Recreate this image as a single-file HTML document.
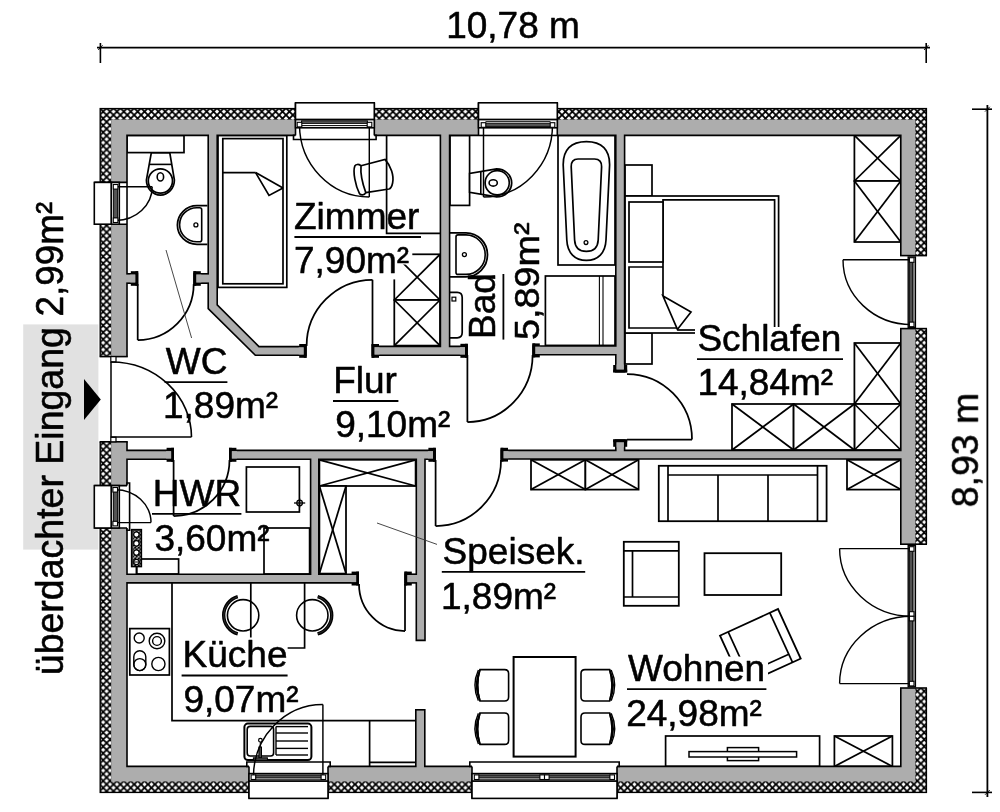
<!DOCTYPE html>
<html lang="de"><head><meta charset="utf-8"><title>Grundriss</title>
<style>html,body{margin:0;padding:0;background:#fff}body{width:1000px;height:812px;overflow:hidden;font-family:"Liberation Sans",sans-serif}svg{display:block}svg text{font-family:"Liberation Sans",sans-serif}</style></head>
<body>
<svg width="1000" height="812" viewBox="0 0 1000 812" fill="#000">
<defs><pattern id="hatch" patternUnits="userSpaceOnUse" width="6.9" height="6.9" x="99.7" y="108.15"><rect width="6.9" height="6.9" fill="#fff"/><path d="M-1,-1 L7.9,7.9 M7.9,-1 L-1,7.9" stroke="#000" stroke-width="1.8" fill="none"/></pattern><pattern id="hatch2" patternUnits="userSpaceOnUse" width="3.6" height="3.6" x="131.6" y="529.6"><rect width="3.6" height="3.6" fill="#fff"/><path d="M-1,-1 L4.6,4.6 M4.6,-1 L-1,4.6" stroke="#000" stroke-width="1.2" fill="none"/></pattern></defs>
<rect x="0.00" y="0.00" width="1000.00" height="812.00" fill="#fff" stroke="none" stroke-width="1.3" />
<rect x="23.20" y="324.40" width="75.20" height="225.20" fill="#e1e1e1" stroke="none" stroke-width="1.3" />
<rect x="127.00" y="135.40" width="57.00" height="17.20" fill="#fff" stroke="#000" stroke-width="1.7" />
<path d="M151.3,152.9 L169.8,152.9 L174.4,180 A14,15.1 0 0 1 146.4,180 Z" fill="#fff" stroke="#000" stroke-width="1.7" />
<line x1="149.50" y1="164.40" x2="171.30" y2="164.40" stroke="#000" stroke-width="1.6" />
<circle cx="160.40" cy="181.00" r="12.10" fill="#fff" stroke="#000" stroke-width="1.7"/>
<ellipse cx="160.4" cy="176.9" rx="3.2" ry="4.1" fill="#fff" stroke="#000" stroke-width="1.6"/>
<path d="M207.4,205.6 L197,205.6 A19.6,19.35 0 0 0 197,244.3 L207.4,244.3" fill="#fff" stroke="#000" stroke-width="1.8" />
<path d="M201.7,209.7 Q201.7,207.7 199.7,207.7 L196.8,207.7 A17.2,17 0 0 0 196.8,241.7 L199.7,241.7 Q201.7,241.7 201.7,239.7 Z" fill="#fff" stroke="#000" stroke-width="1.6" />
<circle cx="195.90" cy="224.90" r="2.00" fill="none" stroke="#000" stroke-width="1.3"/>
<rect x="218.00" y="135.40" width="68.80" height="152.00" fill="#fff" stroke="#000" stroke-width="1.7" />
<rect x="222.80" y="138.60" width="60.20" height="145.20" fill="#fff" stroke="#000" stroke-width="1.7" />
<line x1="222.80" y1="172.60" x2="255.60" y2="172.60" stroke="#000" stroke-width="1.7" />
<path d="M255.6,172.6 L269,195.4 L283,188" fill="none" stroke="#000" stroke-width="1.7" />
<line x1="255.60" y1="172.60" x2="283.00" y2="188.00" stroke="#000" stroke-width="1.7" />
<path d="M386.6,135.4 L386.6,233.3 L440,233.3" fill="none" stroke="#000" stroke-width="1.7" />
<path d="M361,165.8 L385,159.4 C391,166 394.2,176 392.6,183 C391.8,187 390.5,188.6 389,189 L365.8,192.6" fill="none" stroke="#000" stroke-width="1.7" />
<path d="M361,165.8 C358.6,164 356,164 354.8,166 C352.6,172 355.6,186 359.4,193.4 C361,195.6 364.4,195.4 365.8,192.6 C363,185 360.2,175 361,165.8 Z" fill="none" stroke="#000" stroke-width="1.7" />
<rect x="394.30" y="254.30" width="45.70" height="45.70" fill="#fff" stroke="#000" stroke-width="1.75" />
<line x1="394.30" y1="254.30" x2="440.00" y2="300.00" stroke="#000" stroke-width="1.75" />
<line x1="394.30" y1="300.00" x2="440.00" y2="254.30" stroke="#000" stroke-width="1.75" />
<rect x="394.30" y="300.00" width="45.70" height="45.60" fill="#fff" stroke="#000" stroke-width="1.75" />
<line x1="394.30" y1="300.00" x2="440.00" y2="345.60" stroke="#000" stroke-width="1.75" />
<line x1="394.30" y1="345.60" x2="440.00" y2="300.00" stroke="#000" stroke-width="1.75" />
<rect x="450.00" y="135.40" width="19.60" height="70.00" fill="#fff" stroke="#000" stroke-width="1.7" />
<path d="M469.6,173.4 L469.6,192.4 L496.6,196.9 A15.1,14 0 0 0 496.6,168.9 Z" fill="#fff" stroke="#000" stroke-width="1.7" />
<line x1="480.80" y1="171.60" x2="480.80" y2="194.30" stroke="#000" stroke-width="1.6" />
<circle cx="497.20" cy="182.80" r="12.10" fill="#fff" stroke="#000" stroke-width="1.7"/>
<ellipse cx="493.2" cy="182.9" rx="4.1" ry="3.2" fill="#fff" stroke="#000" stroke-width="1.6"/>
<path d="M450,232.8 L466,232.8 A21.5,22 0 0 1 466,276.8 L450,276.8" fill="#fff" stroke="#000" stroke-width="1.8" />
<path d="M456,236.9 Q456,234.9 458,234.9 L466,234.9 A19.2,19.75 0 0 1 466,274.4 L458,274.4 Q456,274.4 456,272.4 Z" fill="#fff" stroke="#000" stroke-width="1.6" />
<circle cx="464.40" cy="254.60" r="2.00" fill="none" stroke="#000" stroke-width="1.3"/>
<path d="M450,292.4 L457.2,292.4 Q462.2,292.4 462.2,297.6 L462.2,332.6 Q462.2,337.8 457.2,337.8 L450,337.8" fill="#fff" stroke="#000" stroke-width="1.7" />
<rect x="452.00" y="297.20" width="3.80" height="3.80" fill="#fff" stroke="#000" stroke-width="1.2" />
<rect x="558.00" y="135.40" width="57.00" height="129.60" fill="#fff" stroke="#000" stroke-width="1.7" />
<path d="M586.4,141.6 C602,141.6 609.8,150 609.6,165 L606,240 C605.4,253 598,260.4 586.4,260.4 C574.8,260.4 567.4,253 566.8,240 L563.2,165 C563,150 570.8,141.6 586.4,141.6 Z" fill="#fff" stroke="#000" stroke-width="1.7" />
<path d="M578,159 L594.6,159 C599.4,159 601.8,162 601.6,166.6 L598.2,240 C597.8,247.4 593.6,251.4 586.4,251.4 C579.2,251.4 575,247.4 574.6,240 L571.2,166.6 C571,162 573.2,159 578,159 Z" fill="#fff" stroke="#000" stroke-width="1.7" />
<circle cx="586.00" cy="242.60" r="1.90" fill="none" stroke="#000" stroke-width="1.3"/>
<rect x="545.40" y="276.00" width="69.60" height="69.40" fill="#fff" stroke="#000" stroke-width="1.7" />
<line x1="599.40" y1="276.00" x2="599.40" y2="345.40" stroke="#000" stroke-width="1.1" />
<line x1="603.00" y1="276.00" x2="603.00" y2="345.40" stroke="#000" stroke-width="1.1" />
<rect x="625.00" y="165.00" width="27.00" height="31.00" fill="#fff" stroke="#000" stroke-width="1.7" />
<rect x="625.00" y="333.00" width="27.00" height="31.00" fill="#fff" stroke="#000" stroke-width="1.7" />
<rect x="625.00" y="196.00" width="153.60" height="137.00" fill="#fff" stroke="#000" stroke-width="1.7" />
<path d="M663,296 L663,199.8 L774.6,199.8 L774.6,333" fill="none" stroke="#000" stroke-width="1.7" />
<rect x="629.00" y="202.00" width="34.00" height="60.00" fill="#fff" stroke="#000" stroke-width="1.7" />
<path d="M663,267 L629,267 L629,328 L677.4,328" fill="none" stroke="#000" stroke-width="1.7" />
<path d="M663,296 L691,312 L677.4,329.4 Z" fill="#fff" stroke="#000" stroke-width="1.7" />
<line x1="677.40" y1="330.00" x2="700.00" y2="330.00" stroke="#000" stroke-width="1.7" />
<rect x="854.40" y="135.40" width="46.40" height="45.60" fill="#fff" stroke="#000" stroke-width="1.75" />
<line x1="854.40" y1="135.40" x2="900.80" y2="181.00" stroke="#000" stroke-width="1.75" />
<line x1="854.40" y1="181.00" x2="900.80" y2="135.40" stroke="#000" stroke-width="1.75" />
<rect x="854.40" y="181.00" width="46.40" height="61.00" fill="#fff" stroke="#000" stroke-width="1.75" />
<line x1="854.40" y1="181.00" x2="900.80" y2="242.00" stroke="#000" stroke-width="1.75" />
<line x1="854.40" y1="242.00" x2="900.80" y2="181.00" stroke="#000" stroke-width="1.75" />
<rect x="854.40" y="343.00" width="46.40" height="61.00" fill="#fff" stroke="#000" stroke-width="1.75" />
<line x1="854.40" y1="343.00" x2="900.80" y2="404.00" stroke="#000" stroke-width="1.75" />
<line x1="854.40" y1="404.00" x2="900.80" y2="343.00" stroke="#000" stroke-width="1.75" />
<rect x="854.40" y="404.00" width="46.40" height="46.00" fill="#fff" stroke="#000" stroke-width="1.75" />
<line x1="854.40" y1="404.00" x2="900.80" y2="450.00" stroke="#000" stroke-width="1.75" />
<line x1="854.40" y1="450.00" x2="900.80" y2="404.00" stroke="#000" stroke-width="1.75" />
<rect x="732.00" y="404.00" width="61.60" height="46.00" fill="#fff" stroke="#000" stroke-width="1.75" />
<line x1="732.00" y1="404.00" x2="793.60" y2="450.00" stroke="#000" stroke-width="1.75" />
<line x1="732.00" y1="450.00" x2="793.60" y2="404.00" stroke="#000" stroke-width="1.75" />
<rect x="793.60" y="404.00" width="60.80" height="46.00" fill="#fff" stroke="#000" stroke-width="1.75" />
<line x1="793.60" y1="404.00" x2="854.40" y2="450.00" stroke="#000" stroke-width="1.75" />
<line x1="793.60" y1="450.00" x2="854.40" y2="404.00" stroke="#000" stroke-width="1.75" />
<rect x="246.40" y="467.00" width="53.00" height="45.00" fill="#fff" stroke="#000" stroke-width="1.7" />
<circle cx="299.60" cy="503.00" r="2.80" fill="none" stroke="#000" stroke-width="1.3"/>
<line x1="294.00" y1="503.00" x2="305.20" y2="503.00" stroke="#000" stroke-width="1.3" />
<line x1="299.60" y1="498.40" x2="299.60" y2="507.60" stroke="#000" stroke-width="1.3" />
<rect x="264.00" y="528.00" width="45.60" height="46.00" fill="#fff" stroke="#000" stroke-width="1.7" />
<rect x="136.60" y="559.00" width="42.00" height="15.00" fill="#fff" stroke="#000" stroke-width="1.7" />
<rect x="131.60" y="529.60" width="9.80" height="37.00" fill="url(#hatch2)" stroke="#000" stroke-width="1.5" />
<circle cx="136.40" cy="534.60" r="2.70" fill="#fff" stroke="#000" stroke-width="1.2"/>
<circle cx="136.40" cy="543.40" r="2.70" fill="#fff" stroke="#000" stroke-width="1.2"/>
<circle cx="136.40" cy="552.60" r="2.70" fill="#fff" stroke="#000" stroke-width="1.2"/>
<circle cx="136.40" cy="562.00" r="2.70" fill="#fff" stroke="#000" stroke-width="1.2"/>
<line x1="132.40" y1="562.00" x2="140.40" y2="562.00" stroke="#000" stroke-width="1.0" />
<line x1="136.60" y1="566.60" x2="136.60" y2="574.00" stroke="#000" stroke-width="1.7" />
<rect x="319.40" y="459.80" width="96.20" height="26.20" fill="#fff" stroke="#000" stroke-width="1.75" />
<line x1="319.40" y1="459.80" x2="415.60" y2="486.00" stroke="#000" stroke-width="1.75" />
<line x1="319.40" y1="486.00" x2="415.60" y2="459.80" stroke="#000" stroke-width="1.75" />
<rect x="319.40" y="486.00" width="26.60" height="87.60" fill="#fff" stroke="#000" stroke-width="1.75" />
<line x1="319.40" y1="486.00" x2="346.00" y2="573.60" stroke="#000" stroke-width="1.75" />
<line x1="319.40" y1="573.60" x2="346.00" y2="486.00" stroke="#000" stroke-width="1.75" />
<path d="M172,583 L172,720.6 L415,720.6" fill="none" stroke="#000" stroke-width="1.7" />
<path d="M250.8,583 L250.8,647.6" fill="none" stroke="#000" stroke-width="1.7" />
<path d="M304.6,583 L304.6,648 L287.4,648" fill="none" stroke="#000" stroke-width="1.7" />
<line x1="369.60" y1="720.60" x2="369.60" y2="766.40" stroke="#000" stroke-width="1.7" />
<line x1="369.60" y1="762.40" x2="415.00" y2="762.40" stroke="#000" stroke-width="1.7" />
<circle cx="243.10" cy="615.30" r="15.70" fill="none" stroke="#000" stroke-width="1.6"/>
<path d="M237.75,596.65 A19.4,19.4 0 0 0 237.75,633.95" fill="none" stroke="#000" stroke-width="3.4" />
<path d="M237.75,596.65 A19.4,19.4 0 0 0 237.75,633.95" fill="none" stroke="#555" stroke-width="0.5" />
<circle cx="312.30" cy="615.30" r="15.70" fill="none" stroke="#000" stroke-width="1.6"/>
<path d="M317.65,596.65 A19.4,19.4 0 0 1 317.65,633.95" fill="none" stroke="#000" stroke-width="3.4" />
<path d="M317.65,596.65 A19.4,19.4 0 0 1 317.65,633.95" fill="none" stroke="#555" stroke-width="0.5" />
<rect x="129.80" y="628.60" width="39.60" height="46.40" fill="#fff" stroke="#000" stroke-width="1.7" />
<circle cx="139.20" cy="638.00" r="5.00" fill="none" stroke="#000" stroke-width="1.4"/>
<circle cx="157.00" cy="641.00" r="7.80" fill="none" stroke="#000" stroke-width="1.4"/>
<circle cx="157.00" cy="641.00" r="4.40" fill="none" stroke="#000" stroke-width="1.4"/>
<rect x="133.8" y="650.8" width="12" height="19.8" rx="6" ry="6" fill="none" stroke="#000" stroke-width="1.4"/>
<circle cx="139.80" cy="664.60" r="6.00" fill="none" stroke="#000" stroke-width="1.4"/>
<circle cx="158.40" cy="664.00" r="6.60" fill="none" stroke="#000" stroke-width="1.4"/>
<rect x="244.4" y="723.6" width="67" height="36.4" rx="3.5" fill="#fff" stroke="#000" stroke-width="2.0"/>
<rect x="247.2" y="726.4" width="26.4" height="29.6" rx="3" fill="#fff" stroke="#000" stroke-width="1.6"/>
<line x1="276.00" y1="726.60" x2="308.00" y2="726.60" stroke="#000" stroke-width="1.4" />
<line x1="276.00" y1="733.00" x2="308.00" y2="733.00" stroke="#000" stroke-width="1.4" />
<line x1="276.00" y1="741.00" x2="308.00" y2="741.00" stroke="#000" stroke-width="1.4" />
<line x1="276.00" y1="748.40" x2="308.00" y2="748.40" stroke="#000" stroke-width="1.4" />
<line x1="276.00" y1="755.00" x2="308.00" y2="755.00" stroke="#000" stroke-width="1.4" />
<line x1="276.00" y1="726.60" x2="276.00" y2="755.00" stroke="#000" stroke-width="1.4" />
<circle cx="260.40" cy="740.20" r="1.80" fill="#fff" stroke="#000" stroke-width="1.2"/>
<line x1="260.30" y1="742.00" x2="260.20" y2="747.00" stroke="#000" stroke-width="1.0" />
<rect x="258.90" y="747.00" width="2.60" height="11.00" fill="#444" stroke="#000" stroke-width="1.0" />
<rect x="253.40" y="757.80" width="14.00" height="2.60" fill="#444" stroke="#000" stroke-width="1.0" />
<rect x="531.00" y="459.80" width="54.40" height="29.80" fill="#fff" stroke="#000" stroke-width="1.75" />
<line x1="531.00" y1="459.80" x2="585.40" y2="489.60" stroke="#000" stroke-width="1.75" />
<line x1="531.00" y1="489.60" x2="585.40" y2="459.80" stroke="#000" stroke-width="1.75" />
<rect x="585.40" y="459.80" width="53.20" height="29.80" fill="#fff" stroke="#000" stroke-width="1.75" />
<line x1="585.40" y1="459.80" x2="638.60" y2="489.60" stroke="#000" stroke-width="1.75" />
<line x1="585.40" y1="489.60" x2="638.60" y2="459.80" stroke="#000" stroke-width="1.75" />
<rect x="847.00" y="459.80" width="53.80" height="29.80" fill="#fff" stroke="#000" stroke-width="1.75" />
<line x1="847.00" y1="459.80" x2="900.80" y2="489.60" stroke="#000" stroke-width="1.75" />
<line x1="847.00" y1="489.60" x2="900.80" y2="459.80" stroke="#000" stroke-width="1.75" />
<rect x="834.40" y="736.00" width="58.00" height="30.40" fill="#fff" stroke="#000" stroke-width="1.75" />
<line x1="834.40" y1="736.00" x2="892.40" y2="766.40" stroke="#000" stroke-width="1.75" />
<line x1="834.40" y1="766.40" x2="892.40" y2="736.00" stroke="#000" stroke-width="1.75" />
<rect x="658.80" y="465.80" width="167.80" height="55.40" fill="#fff" stroke="#000" stroke-width="1.8" />
<line x1="668.00" y1="465.80" x2="668.00" y2="521.20" stroke="#000" stroke-width="1.7" />
<line x1="817.50" y1="465.80" x2="817.50" y2="521.20" stroke="#000" stroke-width="1.7" />
<line x1="668.00" y1="475.00" x2="817.50" y2="475.00" stroke="#000" stroke-width="1.7" />
<line x1="718.00" y1="475.00" x2="718.00" y2="521.20" stroke="#000" stroke-width="1.7" />
<line x1="768.00" y1="475.00" x2="768.00" y2="521.20" stroke="#000" stroke-width="1.7" />
<rect x="623.80" y="541.80" width="55.00" height="64.00" fill="#fff" stroke="#000" stroke-width="1.8" />
<line x1="623.80" y1="550.80" x2="678.80" y2="550.80" stroke="#000" stroke-width="1.7" />
<line x1="623.80" y1="597.00" x2="678.80" y2="597.00" stroke="#000" stroke-width="1.7" />
<line x1="632.50" y1="550.80" x2="632.50" y2="597.00" stroke="#000" stroke-width="1.7" />
<rect x="704.50" y="553.20" width="76.70" height="41.80" fill="#fff" stroke="#000" stroke-width="1.8" />
<g transform="translate(720,635.6) rotate(-24.6)">
<rect x="0.00" y="0.00" width="63.80" height="54.50" fill="#fff" stroke="#000" stroke-width="1.8" />
<line x1="9.00" y1="0.00" x2="9.00" y2="54.50" stroke="#000" stroke-width="1.7" />
<line x1="54.80" y1="0.00" x2="54.80" y2="54.50" stroke="#000" stroke-width="1.7" />
<line x1="9.00" y1="45.50" x2="54.80" y2="45.50" stroke="#000" stroke-width="1.7" />
</g>
<rect x="513.60" y="657.00" width="62.00" height="99.60" fill="#fff" stroke="#000" stroke-width="2.0" />
<g transform="translate(474,669.6)">
<path d="M6,0 L30.6,0 Q34.6,0 34.6,4 L34.6,27.4 Q34.6,31.4 30.6,31.4 L6,31.4 Q1.2,15.7 6,0 Z" fill="#fff" stroke="#000" stroke-width="1.6"/>
<path d="M6,0 Q-1.4,15.7 6,31.4 Q1.2,15.7 6,0 Z" fill="#fff" stroke="#000" stroke-width="1.5"/>
<path d="M4.4,0.4 Q-2.6,15.7 4.4,31" fill="none" stroke="#000" stroke-width="1.4"/>
</g>
<g transform="translate(474,713)">
<path d="M6,0 L30.6,0 Q34.6,0 34.6,4 L34.6,27.4 Q34.6,31.4 30.6,31.4 L6,31.4 Q1.2,15.7 6,0 Z" fill="#fff" stroke="#000" stroke-width="1.6"/>
<path d="M6,0 Q-1.4,15.7 6,31.4 Q1.2,15.7 6,0 Z" fill="#fff" stroke="#000" stroke-width="1.5"/>
<path d="M4.4,0.4 Q-2.6,15.7 4.4,31" fill="none" stroke="#000" stroke-width="1.4"/>
</g>
<g transform="translate(615.6,669.6) scale(-1,1)">
<path d="M6,0 L30.6,0 Q34.6,0 34.6,4 L34.6,27.4 Q34.6,31.4 30.6,31.4 L6,31.4 Q1.2,15.7 6,0 Z" fill="#fff" stroke="#000" stroke-width="1.6"/>
<path d="M6,0 Q-1.4,15.7 6,31.4 Q1.2,15.7 6,0 Z" fill="#fff" stroke="#000" stroke-width="1.5"/>
<path d="M4.4,0.4 Q-2.6,15.7 4.4,31" fill="none" stroke="#000" stroke-width="1.4"/>
</g>
<g transform="translate(615.6,713) scale(-1,1)">
<path d="M6,0 L30.6,0 Q34.6,0 34.6,4 L34.6,27.4 Q34.6,31.4 30.6,31.4 L6,31.4 Q1.2,15.7 6,0 Z" fill="#fff" stroke="#000" stroke-width="1.6"/>
<path d="M6,0 Q-1.4,15.7 6,31.4 Q1.2,15.7 6,0 Z" fill="#fff" stroke="#000" stroke-width="1.5"/>
<path d="M4.4,0.4 Q-2.6,15.7 4.4,31" fill="none" stroke="#000" stroke-width="1.4"/>
</g>
<rect x="665.60" y="736.00" width="154.00" height="30.40" fill="#fff" stroke="#000" stroke-width="1.7" />
<rect x="727.40" y="747.60" width="31.20" height="13.00" fill="#fff" stroke="#000" stroke-width="1.5" />
<rect x="689.00" y="751.60" width="107.60" height="5.40" fill="#fff" stroke="#000" stroke-width="1.5" />
<rect x="293.00" y="243.00" width="108.00" height="36.40" fill="#fff" stroke="none" stroke-width="1.3" />
<rect x="400.00" y="243.00" width="12.30" height="21.50" fill="#fff" stroke="none" stroke-width="1.3" />
<rect x="695.00" y="327.00" width="151.00" height="73.00" fill="#fff" stroke="none" stroke-width="1.3" />
<rect x="181.00" y="637.50" width="106.40" height="78.50" fill="#fff" stroke="none" stroke-width="1.3" />
<rect x="626.00" y="656.60" width="142.00" height="74.40" fill="#fff" stroke="none" stroke-width="1.3" />
<path fill-rule="evenodd" d="M100.2,108.6 H926.4 V792.4 H100.2 Z M111.2,119.8 V781.3 H915.2 V119.8 Z" fill="url(#hatch)" stroke="none"/>
<rect x="100.2" y="108.6" width="826.1999999999999" height="683.8" fill="none" stroke="#000" stroke-width="1.4"/>
<path d="M111.2,119.8 H915.2 V781.3 H111.2 Z M127.8,136.20000000000002 V765.6 H900.0 V136.20000000000002 Z" fill="#000" fill-rule="evenodd"/>
<path d="M120,273 H138.2 V284 H120 Z" fill="#000" fill-rule="evenodd"/>
<path d="M193.4,273 H212 V284 H193.4 Z" fill="#000" fill-rule="evenodd"/>
<path d="M207.4,128 L218,128 L218,304.5 L259.3,345.8 L306.6,345.8 L306.6,356 L255,356 L207.4,309 Z" fill="#000" fill-rule="evenodd"/>
<path d="M371.6,345.6 H467.8 V356 H371.6 Z" fill="#000" fill-rule="evenodd"/>
<path d="M439.6,128 H450.4 V350 H439.6 Z" fill="#000" fill-rule="evenodd"/>
<path d="M532.4,345.2 H620 V355.6 H532.4 Z" fill="#000" fill-rule="evenodd"/>
<path d="M615,128 H625.4 V372.4 H615 Z" fill="#000" fill-rule="evenodd"/>
<path d="M615,439.4 H625.4 V455 H615 Z" fill="#000" fill-rule="evenodd"/>
<path d="M500.6,449.6 H908 V459.8 H500.6 Z" fill="#000" fill-rule="evenodd"/>
<path d="M120,449.6 H174 V460 H120 Z" fill="#000" fill-rule="evenodd"/>
<path d="M229,449.6 H435.8 V460 H229 Z" fill="#000" fill-rule="evenodd"/>
<path d="M120,573.4 H359 V583.7 H120 Z" fill="#000" fill-rule="evenodd"/>
<path d="M309.8,455 H319.6 V578 H309.8 Z" fill="#000" fill-rule="evenodd"/>
<path d="M415.5,455 H425.8 V641.2 H415.5 Z" fill="#000" fill-rule="evenodd"/>
<path d="M404.4,573.4 H420 V583.7 H404.4 Z" fill="#000" fill-rule="evenodd"/>
<path d="M415,709 H425.6 V772 H415 Z" fill="#000" fill-rule="evenodd"/>
<path d="M130.79999999999998,271.2 H138.2 V285.8 H130.79999999999998 Z" fill="#000" fill-rule="evenodd"/>
<path d="M193.4,271.2 H200.8 V285.8 H193.4 Z" fill="#000" fill-rule="evenodd"/>
<path d="M299.20000000000005,344.0 H306.6 V357.8 H299.20000000000005 Z" fill="#000" fill-rule="evenodd"/>
<path d="M371.6,344.0 H379.0 V357.8 H371.6 Z" fill="#000" fill-rule="evenodd"/>
<path d="M460.40000000000003,343.8 H467.8 V357.8 H460.40000000000003 Z" fill="#000" fill-rule="evenodd"/>
<path d="M532.4,343.4 H539.8 V357.40000000000003 H532.4 Z" fill="#000" fill-rule="evenodd"/>
<path d="M613.2,365.0 H627.1999999999999 V372.4 H613.2 Z" fill="#000" fill-rule="evenodd"/>
<path d="M613.2,439.4 H627.1999999999999 V446.79999999999995 H613.2 Z" fill="#000" fill-rule="evenodd"/>
<path d="M500.6,447.8 H508.0 V461.6 H500.6 Z" fill="#000" fill-rule="evenodd"/>
<path d="M166.6,447.8 H174 V461.8 H166.6 Z" fill="#000" fill-rule="evenodd"/>
<path d="M229,447.8 H236.4 V461.8 H229 Z" fill="#000" fill-rule="evenodd"/>
<path d="M428.40000000000003,447.8 H435.8 V461.8 H428.40000000000003 Z" fill="#000" fill-rule="evenodd"/>
<path d="M351.6,571.6 H359 V585.5 H351.6 Z" fill="#000" fill-rule="evenodd"/>
<path d="M404.4,571.6 H411.79999999999995 V585.5 H404.4 Z" fill="#000" fill-rule="evenodd"/>
<path d="M111.2,119.8 H915.2 V781.3 H111.2 Z M126.2,134.6 V767.1999999999999 H901.5999999999999 V134.6 Z" fill="#adadad" fill-rule="evenodd"/>
<path d="M121.6,274.6 H136.6 V282.4 H121.6 Z" fill="#adadad" fill-rule="evenodd"/>
<path d="M195.0,274.6 H210.4 V282.4 H195.0 Z" fill="#adadad" fill-rule="evenodd"/>
<path d="M209,128 L216.4,128 L216.4,305.2 L258.6,347.4 L305,347.4 L305,354.4 L255.7,354.4 L209,308.3 Z" fill="#adadad" fill-rule="evenodd"/>
<path d="M373.20000000000005,347.20000000000005 H466.2 V354.4 H373.20000000000005 Z" fill="#adadad" fill-rule="evenodd"/>
<path d="M441.20000000000005,129.6 H448.79999999999995 V348.4 H441.20000000000005 Z" fill="#adadad" fill-rule="evenodd"/>
<path d="M534.0,346.8 H618.4 V354.0 H534.0 Z" fill="#adadad" fill-rule="evenodd"/>
<path d="M616.6,129.6 H623.8 V370.79999999999995 H616.6 Z" fill="#adadad" fill-rule="evenodd"/>
<path d="M616.6,441.0 H623.8 V453.4 H616.6 Z" fill="#adadad" fill-rule="evenodd"/>
<path d="M502.20000000000005,451.20000000000005 H906.4 V458.2 H502.20000000000005 Z" fill="#adadad" fill-rule="evenodd"/>
<path d="M121.6,451.20000000000005 H172.4 V458.4 H121.6 Z" fill="#adadad" fill-rule="evenodd"/>
<path d="M230.6,451.20000000000005 H434.2 V458.4 H230.6 Z" fill="#adadad" fill-rule="evenodd"/>
<path d="M121.6,575.0 H357.4 V582.1 H121.6 Z" fill="#adadad" fill-rule="evenodd"/>
<path d="M311.40000000000003,456.6 H318.0 V576.4 H311.40000000000003 Z" fill="#adadad" fill-rule="evenodd"/>
<path d="M417.1,456.6 H424.2 V639.6 H417.1 Z" fill="#adadad" fill-rule="evenodd"/>
<path d="M406.0,575.0 H418.4 V582.1 H406.0 Z" fill="#adadad" fill-rule="evenodd"/>
<path d="M416.6,710.6 H424.0 V770.4 H416.6 Z" fill="#adadad" fill-rule="evenodd"/>
<path d="M130.29999999999998,274.6 H135.39999999999998 V282.4 H130.29999999999998 Z" fill="#adadad" fill-rule="evenodd"/>
<path d="M196.20000000000002,274.6 H201.3 V282.4 H196.20000000000002 Z" fill="#adadad" fill-rule="evenodd"/>
<path d="M298.70000000000005,347.40000000000003 H303.8 V354.4 H298.70000000000005 Z" fill="#adadad" fill-rule="evenodd"/>
<path d="M374.40000000000003,347.40000000000003 H379.5 V354.4 H374.40000000000003 Z" fill="#adadad" fill-rule="evenodd"/>
<path d="M459.90000000000003,347.20000000000005 H465.0 V354.4 H459.90000000000003 Z" fill="#adadad" fill-rule="evenodd"/>
<path d="M535.1999999999999,346.8 H540.3 V354.0 H535.1999999999999 Z" fill="#adadad" fill-rule="evenodd"/>
<path d="M616.6,364.5 H623.8 V369.59999999999997 H616.6 Z" fill="#adadad" fill-rule="evenodd"/>
<path d="M616.6,442.2 H623.8 V447.29999999999995 H616.6 Z" fill="#adadad" fill-rule="evenodd"/>
<path d="M503.40000000000003,451.20000000000005 H508.5 V458.2 H503.40000000000003 Z" fill="#adadad" fill-rule="evenodd"/>
<path d="M166.1,451.20000000000005 H171.2 V458.4 H166.1 Z" fill="#adadad" fill-rule="evenodd"/>
<path d="M231.8,451.20000000000005 H236.9 V458.4 H231.8 Z" fill="#adadad" fill-rule="evenodd"/>
<path d="M427.90000000000003,451.20000000000005 H433.0 V458.4 H427.90000000000003 Z" fill="#adadad" fill-rule="evenodd"/>
<path d="M351.1,575.0 H356.2 V582.1 H351.1 Z" fill="#adadad" fill-rule="evenodd"/>
<path d="M407.2,575.0 H412.29999999999995 V582.1 H407.2 Z" fill="#adadad" fill-rule="evenodd"/>
<path d="M135.39999999999998,271.2 H138.2 V285.8 H135.39999999999998 Z" fill="#000"/>
<path d="M193.4,271.2 H196.20000000000002 V285.8 H193.4 Z" fill="#000"/>
<path d="M303.8,344.0 H306.6 V357.8 H303.8 Z" fill="#000"/>
<path d="M371.6,344.0 H374.40000000000003 V357.8 H371.6 Z" fill="#000"/>
<path d="M465.0,343.8 H467.8 V357.8 H465.0 Z" fill="#000"/>
<path d="M532.4,343.4 H535.1999999999999 V357.40000000000003 H532.4 Z" fill="#000"/>
<path d="M613.2,369.59999999999997 H627.1999999999999 V372.4 H613.2 Z" fill="#000"/>
<path d="M613.2,439.4 H627.1999999999999 V442.2 H613.2 Z" fill="#000"/>
<path d="M500.6,447.8 H503.40000000000003 V461.6 H500.6 Z" fill="#000"/>
<path d="M171.2,447.8 H174 V461.8 H171.2 Z" fill="#000"/>
<path d="M229,447.8 H231.8 V461.8 H229 Z" fill="#000"/>
<path d="M433.0,447.8 H435.8 V461.8 H433.0 Z" fill="#000"/>
<path d="M356.2,571.6 H359 V585.5 H356.2 Z" fill="#000"/>
<path d="M404.4,571.6 H407.2 V585.5 H404.4 Z" fill="#000"/>
<rect x="295.50" y="107.40" width="78.80" height="29.00" fill="#fff" stroke="none" stroke-width="1.3" />
<path d="M295.5,135.4 H293.5 V139.5 H376.1 V135.4 H374.3" fill="#fff" stroke="#000" stroke-width="1.6" />
<line x1="295.50" y1="102.80" x2="295.50" y2="135.40" stroke="#000" stroke-width="1.6" />
<line x1="374.30" y1="102.80" x2="374.30" y2="135.40" stroke="#000" stroke-width="1.6" />
<rect x="295.50" y="102.80" width="78.80" height="16.80" fill="#fff" stroke="#000" stroke-width="1.6" />
<rect x="295.50" y="119.60" width="78.80" height="8.20" fill="#fff" stroke="#000" stroke-width="1.6" />
<rect x="301.50" y="120.80" width="66.00" height="2.60" fill="#555" stroke="#000" stroke-width="0.9" />
<line x1="301.50" y1="125.60" x2="367.50" y2="125.60" stroke="#000" stroke-width="1.0" />
<rect x="478.50" y="107.40" width="78.80" height="27.10" fill="#fff" stroke="none" stroke-width="1.3" />
<line x1="478.50" y1="102.80" x2="478.50" y2="135.40" stroke="#000" stroke-width="1.6" />
<line x1="557.30" y1="102.80" x2="557.30" y2="135.40" stroke="#000" stroke-width="1.6" />
<rect x="478.50" y="102.80" width="78.80" height="16.80" fill="#fff" stroke="#000" stroke-width="1.6" />
<rect x="478.50" y="119.60" width="78.80" height="8.20" fill="#fff" stroke="#000" stroke-width="1.6" />
<line x1="485.50" y1="121.60" x2="550.50" y2="121.60" stroke="#000" stroke-width="0.9" />
<rect x="485.50" y="123.20" width="65.00" height="3.20" fill="#555" stroke="#000" stroke-width="0.9" />
<line x1="369.30" y1="124.50" x2="369.30" y2="197.00" stroke="#000" stroke-width="1.45" />
<path d="M299.5,124.5 A69.8,72.5 0 0 0 369.3,197" fill="none" stroke="#000" stroke-width="1.45" />
<line x1="483.50" y1="125.00" x2="483.50" y2="197.00" stroke="#000" stroke-width="1.45" />
<path d="M552.5,125 A69,72 0 0 1 483.5,197" fill="none" stroke="#000" stroke-width="1.45" />
<rect x="297.20" y="122.30" width="4.60" height="4.60" fill="#fff" stroke="#000" stroke-width="1.1" />
<rect x="367.20" y="122.30" width="4.60" height="4.60" fill="#fff" stroke="#000" stroke-width="1.1" />
<rect x="481.20" y="122.70" width="4.60" height="4.60" fill="#fff" stroke="#000" stroke-width="1.1" />
<rect x="550.20" y="122.70" width="4.60" height="4.60" fill="#fff" stroke="#000" stroke-width="1.1" />
<rect x="249.00" y="765.40" width="79.00" height="28.20" fill="#fff" stroke="none" stroke-width="1.3" />
<path d="M249,766.4 H246.8 V762 H330.2 V766.4 H328" fill="#fff" stroke="#000" stroke-width="1.6" />
<line x1="249.00" y1="766.40" x2="249.00" y2="798.40" stroke="#000" stroke-width="1.6" />
<line x1="328.00" y1="766.40" x2="328.00" y2="798.40" stroke="#000" stroke-width="1.6" />
<rect x="249.00" y="781.00" width="79.00" height="17.40" fill="#fff" stroke="#000" stroke-width="1.6" />
<rect x="249.00" y="773.60" width="79.00" height="7.40" fill="#fff" stroke="#000" stroke-width="1.6" />
<rect x="255.40" y="775.00" width="66.00" height="3.00" fill="#555" stroke="#000" stroke-width="0.9" />
<line x1="255.40" y1="779.60" x2="321.40" y2="779.60" stroke="#000" stroke-width="0.8" />
<rect x="472.00" y="765.40" width="145.00" height="28.20" fill="#fff" stroke="none" stroke-width="1.3" />
<path d="M472,766.4 H469.8 V762 H619.2 V766.4 H617" fill="#fff" stroke="#000" stroke-width="1.6" />
<line x1="472.00" y1="766.40" x2="472.00" y2="798.40" stroke="#000" stroke-width="1.6" />
<line x1="617.00" y1="766.40" x2="617.00" y2="798.40" stroke="#000" stroke-width="1.6" />
<rect x="472.00" y="781.00" width="145.00" height="17.40" fill="#fff" stroke="#000" stroke-width="1.6" />
<rect x="472.00" y="773.60" width="145.00" height="7.40" fill="#fff" stroke="#000" stroke-width="1.6" />
<rect x="478.60" y="775.00" width="131.60" height="3.00" fill="#555" stroke="#000" stroke-width="0.9" />
<line x1="478.60" y1="779.60" x2="610.20" y2="779.60" stroke="#000" stroke-width="0.8" />
<line x1="322.90" y1="777.20" x2="322.90" y2="704.40" stroke="#000" stroke-width="1.45" />
<path d="M322.9,704.4 A69.5,72.8 0 0 0 253.4,777.2" fill="none" stroke="#000" stroke-width="1.45" />
<rect x="251.10" y="774.90" width="4.60" height="4.60" fill="#fff" stroke="#000" stroke-width="1.1" />
<rect x="321.10" y="774.90" width="4.60" height="4.60" fill="#fff" stroke="#000" stroke-width="1.1" />
<rect x="474.30" y="774.90" width="4.60" height="4.60" fill="#fff" stroke="#000" stroke-width="1.1" />
<rect x="539.90" y="774.90" width="4.60" height="4.60" fill="#fff" stroke="#000" stroke-width="1.1" />
<rect x="544.50" y="774.90" width="4.60" height="4.60" fill="#fff" stroke="#000" stroke-width="1.1" />
<rect x="609.90" y="774.90" width="4.60" height="4.60" fill="#fff" stroke="#000" stroke-width="1.1" />
<rect x="99.00" y="182.40" width="27.10" height="41.80" fill="#fff" stroke="none" stroke-width="1.3" />
<line x1="94.30" y1="182.40" x2="127.00" y2="182.40" stroke="#000" stroke-width="1.6" />
<line x1="94.30" y1="224.20" x2="127.00" y2="224.20" stroke="#000" stroke-width="1.6" />
<rect x="94.30" y="182.40" width="17.10" height="41.80" fill="#fff" stroke="#000" stroke-width="1.6" />
<rect x="111.40" y="182.40" width="7.90" height="41.80" fill="#fff" stroke="#000" stroke-width="1.6" />
<rect x="113.60" y="188.40" width="4.00" height="29.80" fill="#555" stroke="#000" stroke-width="0.9" />
<rect x="99.00" y="485.60" width="29.00" height="42.40" fill="#fff" stroke="none" stroke-width="1.3" />
<path d="M127.0,485.6 V483.0 H129.6 V530.2 H127.0 V528" fill="#fff" stroke="#000" stroke-width="1.6" />
<line x1="94.30" y1="485.60" x2="127.00" y2="485.60" stroke="#000" stroke-width="1.6" />
<line x1="94.30" y1="528.00" x2="127.00" y2="528.00" stroke="#000" stroke-width="1.6" />
<rect x="94.30" y="485.60" width="17.10" height="42.40" fill="#fff" stroke="#000" stroke-width="1.6" />
<rect x="111.40" y="485.60" width="7.90" height="42.40" fill="#fff" stroke="#000" stroke-width="1.6" />
<rect x="113.60" y="491.60" width="4.00" height="30.40" fill="#555" stroke="#000" stroke-width="0.9" />
<line x1="116.00" y1="186.80" x2="152.20" y2="186.80" stroke="#000" stroke-width="1.45" />
<path d="M152.2,186.8 A36.2,33.6 0 0 1 116,220.4" fill="none" stroke="#000" stroke-width="1.45" />
<line x1="115.40" y1="522.60" x2="151.00" y2="522.60" stroke="#000" stroke-width="1.45" />
<path d="M151,522.6 A35.6,32.9 0 0 0 115.4,489.7" fill="none" stroke="#000" stroke-width="1.45" />
<rect x="113.30" y="184.50" width="4.60" height="4.60" fill="#fff" stroke="#000" stroke-width="1.1" />
<rect x="113.30" y="217.90" width="4.60" height="4.60" fill="#fff" stroke="#000" stroke-width="1.1" />
<rect x="112.90" y="487.50" width="4.60" height="4.60" fill="#fff" stroke="#000" stroke-width="1.1" />
<rect x="112.90" y="521.30" width="4.60" height="4.60" fill="#fff" stroke="#000" stroke-width="1.1" />
<rect x="99.00" y="356.60" width="29.20" height="85.20" fill="#fff" stroke="none" stroke-width="1.3" />
<line x1="99.60" y1="356.60" x2="127.80" y2="356.60" stroke="#000" stroke-width="1.6" />
<line x1="99.60" y1="441.80" x2="127.80" y2="441.80" stroke="#000" stroke-width="1.6" />
<rect x="110.80" y="356.60" width="5.20" height="5.40" fill="#fff" stroke="#000" stroke-width="1.2" />
<rect x="110.80" y="437.20" width="5.20" height="4.60" fill="#fff" stroke="#000" stroke-width="1.2" />
<line x1="111.00" y1="362.00" x2="111.00" y2="437.20" stroke="#000" stroke-width="1.5" />
<line x1="111.00" y1="437.00" x2="191.50" y2="437.00" stroke="#000" stroke-width="1.6" />
<path d="M111,362 A80.5,75.2 0 0 1 191.5,437" fill="none" stroke="#000" stroke-width="1.6" />
<rect x="899.60" y="255.60" width="28.80" height="73.00" fill="#fff" stroke="none" stroke-width="1.3" />
<line x1="900.00" y1="255.60" x2="927.00" y2="255.60" stroke="#000" stroke-width="1.6" />
<line x1="900.00" y1="328.60" x2="927.00" y2="328.60" stroke="#000" stroke-width="1.6" />
<rect x="908.20" y="257.00" width="7.20" height="70.40" fill="#fff" stroke="#000" stroke-width="1.4" />
<rect x="909.60" y="262.00" width="2.80" height="60.40" fill="#555" stroke="#000" stroke-width="0.9" />
<line x1="913.80" y1="262.00" x2="913.80" y2="322.40" stroke="#000" stroke-width="0.8" />
<rect x="899.60" y="544.20" width="28.80" height="143.80" fill="#fff" stroke="none" stroke-width="1.3" />
<line x1="900.00" y1="544.20" x2="927.00" y2="544.20" stroke="#000" stroke-width="1.6" />
<line x1="900.00" y1="688.00" x2="927.00" y2="688.00" stroke="#000" stroke-width="1.6" />
<rect x="908.20" y="545.60" width="7.20" height="141.20" fill="#fff" stroke="#000" stroke-width="1.4" />
<rect x="909.60" y="551.00" width="2.80" height="130.60" fill="#555" stroke="#000" stroke-width="0.9" />
<line x1="913.80" y1="551.00" x2="913.80" y2="681.60" stroke="#000" stroke-width="0.8" />
<line x1="843.00" y1="259.80" x2="911.60" y2="259.80" stroke="#000" stroke-width="1.4" />
<path d="M843,259.8 A68.6,64.8 0 0 0 911.6,324.6" fill="none" stroke="#000" stroke-width="1.4" />
<line x1="839.60" y1="548.60" x2="911.60" y2="548.60" stroke="#000" stroke-width="1.4" />
<path d="M839.6,548.6 A72,67.6 0 0 0 911.6,616.2" fill="none" stroke="#000" stroke-width="1.4" />
<line x1="839.60" y1="683.60" x2="911.60" y2="683.60" stroke="#000" stroke-width="1.4" />
<path d="M839.6,683.6 A72,67.4 0 0 1 911.6,616.2" fill="none" stroke="#000" stroke-width="1.4" />
<rect x="909.40" y="257.70" width="4.60" height="4.60" fill="#fff" stroke="#000" stroke-width="1.1" />
<rect x="909.40" y="322.10" width="4.60" height="4.60" fill="#fff" stroke="#000" stroke-width="1.1" />
<rect x="909.40" y="546.70" width="4.60" height="4.60" fill="#fff" stroke="#000" stroke-width="1.1" />
<rect x="909.40" y="611.70" width="4.60" height="4.60" fill="#fff" stroke="#000" stroke-width="1.1" />
<rect x="909.40" y="616.30" width="4.60" height="4.60" fill="#fff" stroke="#000" stroke-width="1.1" />
<rect x="909.40" y="681.30" width="4.60" height="4.60" fill="#fff" stroke="#000" stroke-width="1.1" />
<line x1="137.70" y1="284.00" x2="137.70" y2="340.00" stroke="#000" stroke-width="1.75" />
<path d="M137.7,340 A56,56 0 0 0 193.7,284" fill="none" stroke="#000" stroke-width="1.75" />
<line x1="372.50" y1="346.00" x2="372.50" y2="279.80" stroke="#000" stroke-width="1.75" />
<path d="M372.5,279.8 A66,66.2 0 0 0 306.6,346" fill="none" stroke="#000" stroke-width="1.75" />
<line x1="467.40" y1="355.00" x2="467.40" y2="422.00" stroke="#000" stroke-width="1.75" />
<path d="M467.4,422 A65.2,67 0 0 0 532.6,355" fill="none" stroke="#000" stroke-width="1.75" />
<line x1="627.00" y1="439.60" x2="692.00" y2="439.60" stroke="#000" stroke-width="1.75" />
<path d="M692,439.6 A65,65.6 0 0 0 627,374" fill="none" stroke="#000" stroke-width="1.75" />
<line x1="173.60" y1="460.00" x2="173.60" y2="516.00" stroke="#000" stroke-width="1.75" />
<path d="M173.6,516 A55.9,56 0 0 0 229.5,460" fill="none" stroke="#000" stroke-width="1.75" />
<line x1="435.60" y1="460.00" x2="435.60" y2="526.00" stroke="#000" stroke-width="1.75" />
<path d="M435.6,526 A65.4,66 0 0 0 501,460" fill="none" stroke="#000" stroke-width="1.75" />
<line x1="405.00" y1="584.00" x2="405.00" y2="631.00" stroke="#000" stroke-width="1.75" />
<path d="M405,631 A46,47 0 0 1 359,584" fill="none" stroke="#000" stroke-width="1.75" />
<line x1="97.00" y1="47.60" x2="930.00" y2="47.60" stroke="#000" stroke-width="1.8" />
<line x1="100.40" y1="43.00" x2="100.40" y2="63.00" stroke="#000" stroke-width="1.6" />
<line x1="926.20" y1="43.00" x2="926.20" y2="63.00" stroke="#000" stroke-width="1.6" />
<line x1="98.20" y1="50.00" x2="102.60" y2="45.20" stroke="#000" stroke-width="0.9" />
<line x1="924.00" y1="50.00" x2="928.40" y2="45.20" stroke="#000" stroke-width="0.9" />
<line x1="987.40" y1="105.00" x2="987.40" y2="797.00" stroke="#000" stroke-width="1.8" />
<line x1="972.00" y1="109.20" x2="992.00" y2="109.20" stroke="#000" stroke-width="1.6" />
<line x1="972.00" y1="792.40" x2="992.00" y2="792.40" stroke="#000" stroke-width="1.6" />
<line x1="985.00" y1="111.60" x2="989.80" y2="106.80" stroke="#000" stroke-width="0.9" />
<line x1="985.00" y1="794.80" x2="989.80" y2="790.00" stroke="#000" stroke-width="0.9" />
<path d="M84,379 L84,420 L100.8,399.5 Z" fill="#000"/>
<line x1="166.00" y1="250.00" x2="191.60" y2="338.00" stroke="#333" stroke-width="0.9" />
<line x1="377.00" y1="523.00" x2="437.00" y2="544.40" stroke="#333" stroke-width="0.9" />
<g opacity="0.999" stroke="#000" stroke-width="0.55" stroke-linejoin="round">
<text x="446.2" y="38.2" font-size="37" text-anchor="start">10,78 m</text>
<text font-size="37.4" transform="translate(977.7 507.2) rotate(-90) scale(1 0.995)" text-anchor="start">8,93 m</text>
<text font-size="37.5" transform="translate(63.2 675.2) rotate(-90) scale(1 1.045)" text-anchor="start">überdachter Eingang</text>
<text font-size="36.9" transform="translate(63.2 316.6) rotate(-90) scale(1 1.062)" text-anchor="start">2,99m²</text>
<text x="294.0" y="229" font-size="37" text-anchor="start">Zimmer</text>
<line x1="294.40" y1="237.00" x2="421.00" y2="237.00" stroke="#000" stroke-width="1.8" />
<text x="294.0" y="273.4" font-size="37" text-anchor="start">7,90m²</text>
<text x="697.4" y="351.2" font-size="37" text-anchor="start">Schlafen</text>
<line x1="697.00" y1="359.20" x2="843.00" y2="359.20" stroke="#000" stroke-width="1.8" />
<text x="697.4" y="395.2" font-size="37" text-anchor="start">14,84m²</text>
<text x="165.8" y="374.2" font-size="37" text-anchor="start">WC</text>
<line x1="164.60" y1="382.20" x2="227.40" y2="382.20" stroke="#000" stroke-width="1.8" />
<text x="163.0" y="418.4" font-size="37" text-anchor="start">1,89m²</text>
<text x="333.2" y="393.4" font-size="37" text-anchor="start">Flur</text>
<line x1="333.00" y1="401.00" x2="398.40" y2="401.00" stroke="#000" stroke-width="1.8" />
<text x="335.2" y="437.4" font-size="37" text-anchor="start">9,10m²</text>
<text x="152.8" y="506.4" font-size="37" text-anchor="start">HWR</text>
<line x1="152.00" y1="513.80" x2="241.40" y2="513.80" stroke="#000" stroke-width="1.8" />
<text x="154.4" y="550.8" font-size="37" text-anchor="start">3,60m²</text>
<text x="442.6" y="564.4" font-size="37" text-anchor="start">Speisek.</text>
<line x1="441.80" y1="571.80" x2="585.20" y2="571.80" stroke="#000" stroke-width="1.8" />
<text x="441.0" y="608.8" font-size="37" text-anchor="start">1,89m²</text>
<text x="182.6" y="667.2" font-size="37" text-anchor="start">Küche</text>
<line x1="181.60" y1="675.50" x2="287.60" y2="675.50" stroke="#000" stroke-width="1.8" />
<text x="183.4" y="711.7" font-size="37" text-anchor="start">9,07m²</text>
<text x="628.0" y="680.8" font-size="37" text-anchor="start">Wohnen</text>
<line x1="627.00" y1="689.20" x2="766.40" y2="689.20" stroke="#000" stroke-width="1.8" />
<text x="626.2" y="725.8" font-size="37" text-anchor="start">24,98m²</text>
<text font-size="37" transform="translate(495.4 339) rotate(-90) scale(1 1.0)" text-anchor="start">Bad</text>
<line x1="503.40" y1="274.00" x2="503.40" y2="339.60" stroke="#000" stroke-width="1.8" />
<text font-size="37.8" transform="translate(539.2 340) rotate(-90) scale(1 0.95)" text-anchor="start">5,89m²</text>
</g>
</svg>
</body></html>
